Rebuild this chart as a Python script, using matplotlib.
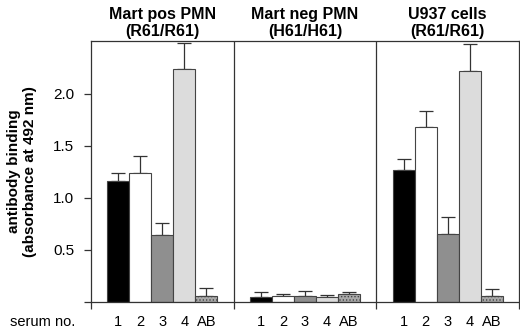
import matplotlib
matplotlib.use("Agg")
import matplotlib.pyplot as plt
import numpy as np

plt.rcParams['font.family'] = ['Liberation Sans', 'DejaVu Sans']
plt.rcParams['hatch.color'] = "#777777"
plt.rcParams['hatch.linewidth'] = 0.6

panels = ["Mart pos PMN\n(R61/R61)", "Mart neg PMN\n(H61/H61)", "U937 cells\n(R61/R61)"]
sera = ["1", "2", "3", "4", "AB"]
means = [
    [1.16, 1.235, 0.64, 2.235, 0.056],
    [0.04, 0.053, 0.053, 0.04, 0.07],
    [1.27, 1.675, 0.646, 2.22, 0.053],
]
errs = [
    [0.08, 0.165, 0.12, 0.255, 0.07],
    [0.055, 0.017, 0.047, 0.02, 0.02],
    [0.10, 0.16, 0.164, 0.26, 0.064],
]
colors = ["#000000", "#ffffff", "#8f8f8f", "#dcdcdc", "#a9a9a9"]
hatches = [None, None, None, None, "....."]

fig = plt.figure(figsize=(5.2, 3.29), dpi=100)
ax = fig.add_axes([91/520, 1-301.5/329, 428/520, (301.5-40.7)/329])

pw = 6.5
for p in range(3):
    for i in range(5):
        x = p*pw + 0.75 + i + 0.5
        ax.bar(x, means[p][i], width=1.0, color=colors[i], edgecolor="#444444",
               linewidth=0.8, hatch=hatches[i], zorder=2)
        ax.errorbar(x, means[p][i], yerr=[[0], [errs[p][i]]], fmt='none',
                    ecolor="#333333", elinewidth=0.9, capsize=5, capthick=0.9, zorder=1)
        ax.text(x, -0.235, sera[i], ha='center', va='baseline', fontsize=10.5)
    ax.text(p*pw + pw/2, 2.53, panels[p], ha='center', va='bottom', fontsize=11.5,
            fontweight='bold', linespacing=1.1)

for xv in [pw, 2*pw]:
    ax.axvline(xv, color="#333333", linewidth=0.9, zorder=3)

ax.set_xlim(0, 3*pw)
ax.set_ylim(0, 2.51)
ax.set_yticks([0, 0.5, 1.0, 1.5, 2.0])
ax.set_yticklabels(["", "0.5", "1.0", "1.5", "2.0"], fontsize=11)
ax.set_xticks([0, pw, 2*pw, 3*pw])
ax.set_xticklabels([])
ax.tick_params(direction='out', length=5, width=0.9, color="#333333")
ax.tick_params(axis='y', pad=7)
for s in ax.spines.values():
    s.set_color("#333333")
    s.set_linewidth(0.9)

ax.text(-0.73, -0.235, "serum no.", ha='right', va='baseline', fontsize=10.5)
ax.set_ylabel("antibody binding\n(absorbance at 492 nm)", fontsize=11,
              fontweight='bold', linespacing=1.1, labelpad=12)

fig.savefig("out.png", dpi=100)
